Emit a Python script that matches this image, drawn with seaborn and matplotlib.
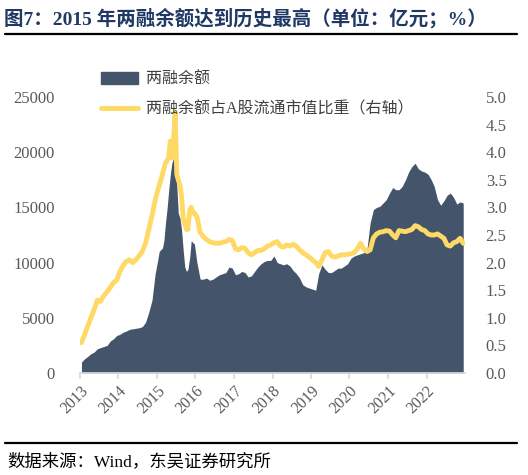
import numpy as np
import pandas as pd
import matplotlib
matplotlib.use("Agg")
import matplotlib.pyplot as plt
from matplotlib.patches import Patch
from matplotlib.lines import Line2D
import seaborn as sns

# 日期：2013-2014 月度，2015 半月度，2016-2022 月度
dates_a = pd.date_range("2013-01-01", "2014-12-01", freq="MS") + pd.Timedelta(days=14)
dates_b = pd.date_range("2015-01-01", periods=24, freq="SMS") + pd.Timedelta(days=7)
dates_c = pd.date_range("2016-01-01", "2022-12-01", freq="MS") + pd.Timedelta(days=14)
dates = dates_a.append(dates_b).append(dates_c)

# 两融余额（亿元）
balance_2013_14 = [1000, 1300, 1500, 1750, 1900, 2200, 2300, 2400, 2500, 2900, 3100, 3400,
                   3500, 3700, 3800, 3950, 4000, 4050, 4100, 4200, 4600, 5500, 6600, 9000]
balance_2015 = [10200, 11000, 11200, 11300, 12000, 13500, 15000, 16500, 18000, 19000, 19500, 19000,
                17000, 14500, 14000, 13000, 11000, 9600, 9200, 9400, 10500, 12000, 11800, 11700]
balance_2016_22 = [10000, 8500, 8500, 8600, 8400, 8500, 8700, 8900, 9000, 9100, 9600, 9500,
                   8900, 9000, 9200, 9100, 8700, 8800, 9200, 9600, 9900, 10100, 10200, 10200,
                   10600, 10000, 9900, 9800, 9900, 9700, 9300, 9000, 8600, 8000, 7800, 7700,
                   7600, 7500, 9000, 9800, 9400, 9100, 9100, 9300, 9500, 9500, 9700, 9900,
                   10400, 10600, 10700, 10800, 10900, 11200, 13600, 14800, 15000, 15100, 15400, 15700,
                   16300, 16800, 16600, 16600, 16900, 17500, 18200, 18700, 19000, 18500, 18300, 18200,
                   18000, 17500, 16900, 15700, 15200, 15600, 16100, 16300, 15900, 15300, 15500, 15400]

# 两融余额占A股流通市值比重（%）
ratio_2013_14 = [0.55, 0.70, 0.85, 1.00, 1.15, 1.32, 1.30, 1.40, 1.47, 1.55, 1.64, 1.68,
                 1.84, 1.95, 2.02, 2.05, 2.00, 2.05, 2.12, 2.20, 2.35, 2.60, 2.85, 3.13]
ratio_2015 = [3.30, 3.40, 3.50, 3.60, 3.70, 3.80, 3.85, 3.90, 4.20, 3.90, 4.20, 4.73,
              3.60, 3.50, 3.40, 3.20, 2.80, 2.70, 2.60, 2.60, 2.95, 3.00, 2.90, 2.90]
ratio_2016_22 = [2.83, 2.55, 2.47, 2.42, 2.38, 2.36, 2.35, 2.35, 2.37, 2.38, 2.42, 2.40,
                 2.25, 2.23, 2.27, 2.26, 2.18, 2.14, 2.18, 2.22, 2.22, 2.25, 2.30, 2.32,
                 2.36, 2.38, 2.30, 2.28, 2.32, 2.30, 2.33, 2.30, 2.23, 2.18, 2.14, 2.10,
                 2.05, 2.00, 1.93, 2.05, 2.18, 2.20, 2.12, 2.10, 2.12, 2.14, 2.14, 2.15,
                 2.16, 2.18, 2.25, 2.35, 2.25, 2.20, 2.23, 2.45, 2.52, 2.55, 2.56, 2.58,
                 2.57, 2.50, 2.45, 2.58, 2.57, 2.56, 2.58, 2.60, 2.67, 2.65, 2.60, 2.58,
                 2.52, 2.50, 2.50, 2.52, 2.48, 2.44, 2.32, 2.30, 2.36, 2.38, 2.44, 2.35]

years = list(range(2013, 2023))

df = pd.DataFrame({
    "date": dates,
    "balance": balance_2013_14 + balance_2015 + balance_2016_22,
    "ratio": ratio_2013_14 + ratio_2015 + ratio_2016_22,
})

sns.set_theme(style="white")
plt.rcParams['font.family'] = ['Liberation Serif', 'Noto Sans CJK SC', 'DejaVu Sans']
serif_cjk = ['Liberation Serif', 'Noto Sans CJK SC', 'DejaVu Sans']

navy = "#44546a"
gold = "#ffd966"
grey = "#595959"

fig = plt.figure(figsize=(5.28, 4.75), dpi=100)
ax = fig.add_axes([0.1515, 0.2147, 0.729, 0.5811])

# 面积：两融余额（左轴）
ax.fill_between(df["date"], 0, df["balance"], color=navy, lw=0)
# 折线：占比（右轴）
ax2 = ax.twinx()
sns.lineplot(data=df, x="date", y="ratio", ax=ax2, color=gold, lw=3.5)

ax.set_xlim(pd.Timestamp("2013-01-01"), pd.Timestamp("2022-12-31"))
ax.set_ylim(0, 25000)
ax.set_yticks(range(0, 25001, 5000))
ax2.set_ylim(0, 5)
ax2.set_yticks(np.arange(0, 5.01, 0.5))
ax2.set_yticklabels([f"{v:.1f}" for v in np.arange(0, 5.01, 0.5)])

ax.set_xticks([pd.Timestamp(f"{y}-01-01") for y in years])
ax.set_xticklabels([str(y) for y in years], rotation=45, ha="right", rotation_mode="anchor")

for a in (ax, ax2):
    for s in a.spines.values():
        s.set_visible(False)
    a.set_xlabel("")
    a.set_ylabel("")
    a.grid(False)
ax.spines["bottom"].set_visible(True)
ax.spines["bottom"].set_color("#d9d9d9")
ax.tick_params(axis="x", which="both", bottom=True, length=4, color="#d9d9d9",
               labelsize=11.5, labelcolor=grey, pad=3)
ax.tick_params(axis="y", left=False, labelsize=12, labelcolor=grey, pad=12)
ax2.tick_params(axis="y", right=False, labelsize=12, labelcolor=grey, pad=9)

handles = [Patch(color=navy, label="两融余额"),
           Line2D([0], [0], color=gold, lw=3.5, label="两融余额占A股流通市值比重（右轴）")]
leg = fig.legend(handles=handles, loc="upper left", bbox_to_anchor=(0.165, 0.88),
                 frameon=False, handlelength=2.3, handleheight=0.8, labelspacing=0.9,
                 handletextpad=0.5, prop={'family': serif_cjk, 'size': 11.5})
for t in leg.get_texts():
    t.set_color("#404040")

fig.text(0.008, 0.962, "图7：2015 年两融余额达到历史最高（单位：亿元；%）",
         family=serif_cjk, fontweight="bold", fontsize=14, color="#1f3864", va="center")
fig.add_artist(Line2D([0.01, 0.98], [0.928, 0.928], transform=fig.transFigure, color="black", lw=1.6))
fig.add_artist(Line2D([0.01, 0.98], [0.067, 0.067], transform=fig.transFigure, color="black", lw=1.6))
fig.text(0.013, 0.027, "数据来源：Wind，东吴证券研究所", family=serif_cjk, fontsize=12.5,
         color="black", va="center")

fig.savefig("out.png", dpi=100)
